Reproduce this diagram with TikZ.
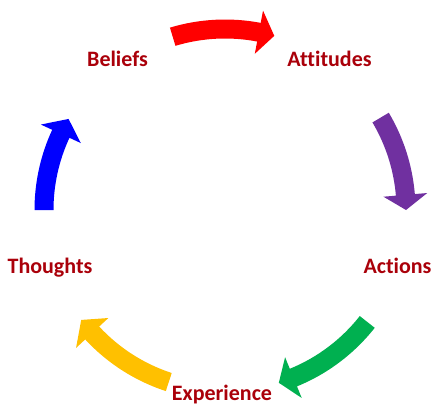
\documentclass[tikz,border=0pt]{standalone}
\usepackage{fontspec}
\setmainfont{Carlito}[Ligatures=CommonOff]
\definecolor{lbl}{RGB}{170,0,10}
\definecolor{aRed}{RGB}{255,0,0}
\definecolor{aPurple}{RGB}{112,48,160}
\definecolor{aGreen}{RGB}{0,176,80}
\definecolor{aYellow}{RGB}{255,192,0}
\definecolor{aBlue}{RGB}{0,0,255}
\newcommand{\cycarrow}[4]{%
  \fill[#1] (#2:190.5pt) arc[start angle=#2, end angle=#3, radius=190.5pt]
    -- (#3:203pt) -- (#4:181pt) -- (#3:159pt) -- (#3:171.5pt)
    arc[start angle=#3, end angle=#2, radius=171.5pt] -- cycle;}
\tikzset{lab/.style={font=\fontsize{22}{26}\selectfont\bfseries, text=lbl, anchor=base, inner sep=0pt}}
\begin{document}
\begin{tikzpicture}[x=1pt,y=1pt]
\useasboundingbox (0,0) rectangle (446,413);
\fill[white] (0,0) rectangle (446,413);
\node[lab] (beliefs) at (117.5,346) {Beliefs};
\node[lab] (attitudes) at (329.5,346) {Attitudes};
\node[lab] (actions) at (397.5,140) {Actions};
\node[lab] (thoughts) at (50,140) {Thoughts};
\node[lab] (experience) at (222,13) {Experience};
\begin{scope}[shift={(225,203)}]
\cycarrow{aRed}{106.8}{79.2}{74.2}
\cycarrow{aPurple}{30.7}{4.8}{0}
\cycarrow{aGreen}{-38.2}{-67.8}{-72.7}
\cycarrow{aYellow}{-108.1}{-137.2}{-142.6}
\cycarrow{aBlue}{180}{155.1}{149.8}
\end{scope}
\end{tikzpicture}
\end{document}
